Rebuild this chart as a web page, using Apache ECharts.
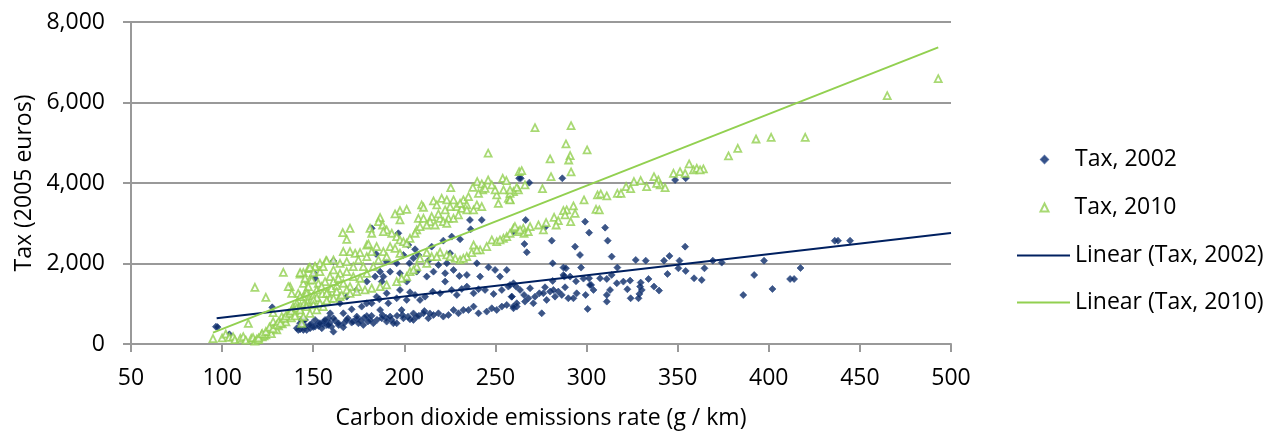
<!DOCTYPE html>
<html>
<head>
<meta charset="utf-8">
<script src="https://cdn.jsdelivr.net/npm/echarts@6/dist/echarts.min.js"></script>
<style>
html,body{margin:0;padding:0;background:#fff;}
#chart{width:1266px;height:432px;}
</style>
</head>
<body>
<div id="chart"></div>
<script>
// X-axis tick values and Y-axis tick values
var xTicks = [50, 100, 150, 200, 250, 300, 350, 400, 450, 500];
var yTicks = [0, 2000, 4000, 6000, 8000];

var seriesNames = ['Tax, 2002', 'Tax, 2010', 'Linear (Tax, 2002)', 'Linear (Tax, 2010)'];

// [CO2 g/km, tax 2005 euros] — Tax, 2002
var tax2002 = [
[96.6,431],[97.5,420],[104,240],[127.5,911],[141.8,348],[144.6,580],[146.4,348],[142.8,364],[152.8,514],[155.5,497],[151,1739],[151,1632],
[141,391],[144.6,349],[148.3,391],[151,432],[154.7,391],[157.4,473],[159.3,763],[143.7,597],[158.4,639],
[146,430],[149,500],[150,420],[153,450],[156,560],[159,520],[160,430],[162,580],[164,470],[167,520],[169,640],[172,560],
[174,620],[176,580],[178,650],[180,560],[182,700],[185,600],[188,720],[190,650],[193,600],[196,700],[199,720],[202,680],
[205,760],[208,700],[211,820],[214,760],
[263,4117],[182.1,2874],[236,3082],[242.5,3082],[236.4,2850],[196.7,2751],[221.4,2568],[230.6,2601],[202.2,2460],[184.5,2237],
[161.1,2063],[199.5,2212],[207.7,2212],[213.2,2071],[202.8,2005],[186.7,1798],[184,1674],[187.6,1550],[197.6,1757],[206.8,1798],
[222.4,1757],[222.4,1550],[230.2,1690],[223.3,2005],[231.5,1368],[234.3,1426],[240.7,1360],[249,1243],[253.5,1343],[246.2,1906],
[259,1177],[215.6,1302],[208.6,1095],[203.1,1285],[197.6,1343],[186.3,1110],[191.2,1012],[182.1,1012],[186.7,846],[176.6,929],
[171.1,862],[166.5,763],[161.1,639],[161.1,307],[153.7,515],[148.2,473],[142.8,515],[195.8,515],[190.3,556],[203.1,614],
[206.8,681],[216,722],[221.4,681],[227,846],[232.4,846],[238,929],[245.2,805],[250.7,846],[256.2,971],[261.7,929],
[198.5,846],[179.4,696],[177.5,473],[171.1,532],[166.5,415],[183,515],
[145.5,598],[151,598],[156.5,598],[158.3,473],[163.8,515],[168.4,598],[173.9,681],[174.8,515],[181.2,598],[187.6,639],
[192.2,681],[194,515],[199.5,639],[205,598],[210.5,763],[213.2,639],[218.7,763],[224.2,722],[229.7,763],[235.2,846],
[240.7,763],[248,888],[253.5,929],[259.9,888],[179.4,1012],[184.8,1177],[190.3,1260],[195.8,1136],[201.3,1095],[205.9,1219],
[211.4,1177],[219.6,1260],[226,1343],[228.8,1219],[238,1260],[244.3,1343],[257.1,1426],[188.5,1674],[192.2,1798],[201.3,1550],
[212.3,1674],[216,1798],[218.7,1964],[227,1840],[234.3,1716],[241.6,1674],[252.5,1674],[259.9,1509],[190.3,2046],[195.8,2005],
[205,2129],[225.1,2254],[239.8,2005],[249.8,1840],[256.2,1840],[215,2419],[226,2668],[205.9,2353],[179.4,1550],[173.9,1343],
[168.4,1177],[164.7,1012],
[263.9,4117],[268.6,4009],[286.7,4117],[348.6,4075],[354.4,4117],[266.6,3082],[259.8,2792],[277.2,2900],[299.2,3040],[310.2,2891],
[301.4,2767],[265.9,2485],[267.2,2279],[280.9,2568],[311.6,2568],[293.7,2419],[296.4,2212],[313.8,2171],[281.4,2005],[287.3,1898],
[288.7,1881],[297,1898],[287.8,1674],[281.4,1567],[294.2,1558],[298.3,1625],[301.4,1633],[302.5,1467],[307.4,1633],[311.1,1616],
[313.8,1716],[316.9,1898],[323.9,1575],[329.7,1525],[327,2088],[332.5,2071],[329.4,1426],[330.3,1343],[329,1244],[337,1426],
[339.8,1327],[334,1616],[322.4,1360],[324.2,1136],[328.5,1136],[342.5,2071],[345.5,2188],[351,2071],[344.4,1740],[350.4,1881],
[354.4,1815],[354.1,2419],[359,1633],[363.2,1591],[364.7,1881],[369.3,2071],[374.2,2022],
[258.9,1177],[259.8,929],[265.7,1219],[266.2,1053],[270.8,1012],[271.7,1177],[275.4,763],[277.2,1409],[280,1302],[281.8,1343],
[282.7,1177],[286.4,1219],[288.2,1409],[290,1136],[292.8,1136],[299.5,1219],[300.6,871],[301.9,1467],[311.1,1219],[311.1,1053],
[274.1,1260],[258,1467],[261.7,1012],[268.1,1136],[276.3,1260],[278.1,1095],[284.5,1302],[294.6,1260],[303.8,1343],[312.9,1343],
[263.5,1343],[269,1384],[261.3,1426],[287.3,1716],[291,1674],[316.6,1509],[320.2,1550],
[386,1217],[392,1714],[397.4,2070],[402,1367],[411.7,1615],[413.9,1615],[417.4,1888],[436.2,2566],[438,2566],[444.6,2566]
];

// [CO2 g/km, tax 2005 euros] — Tax, 2010
var tax2010 = [
[95,135],[100,150],[102,248],[104,165],[106,182],[107,110],[110,140],[111.6,182],[113,95],[114.4,514],[116,141],[117,160],[118,70],
[119,120],[120,110],[121.7,240],[122,180],[123,200],[124,230],[125,300],[126.3,348],[127,260],[128,555],[128,778],[129,400],
[130,350],[131,450],[132.7,679],[133,500],[134,600],[135,550],[136.3,762],[137,700],[138,650],[139,927],[139,820],[140,850],
[141,1011],[142,900],[143,760],[144.6,1176],[141.8,1259],[137.3,1424],[146.4,1342],[144.6,1508],[148,1590],[148,1880],
[118,1408],[124,1160],[133.6,1781],[142.8,1739],[136.3,1424],[138.2,1259],[147.4,1880],[151,1921],[157,2070],
[120,150],[122,260],[124,310],[126,420],[128,380],[130,480],[131,560],[132,520],[134,640],[135,700],[137,760],[138,820],
[140,700],[141,900],[143,950],[145,1000],[147,1050],[149,1100],[150,1200],[152,1150],[155,1250],[158,1300],[160,1380],[163,1450],
[246,4740],[254,4117],[256,4060],[263,4282],[240,4034],[242.5,3976],[246,4075],[243,3827],[237.6,3893],[232.4,3579],
[234.3,3455],[228.8,3413],[231.5,3372],[227,3579],[225.5,3885],[220.5,3620],[223.3,3579],[216,3554],[217.8,3455],[209.5,3455],
[210.5,3397],[207.7,3123],[210.5,3123],[215,3165],[219.6,3123],[221.4,3040],[224.2,3123],[227,3123],[229.7,3206],[234.3,3330],
[238,3330],[239.8,3455],[242.5,3413],[250.7,3703],[251.6,3496],[254.4,3827],[257.1,3620],[258,3595],[259.9,3786],[262.6,3827],
[249.8,3827],[248,3951],[244.3,3868],[240.7,3744],[235.2,3661],[230.6,3496],[225.1,3413],[222.4,3330],[218.7,3231],[214.1,3040],
[212.3,2957],[216.9,2957],[223.3,2999],
[201.3,3347],[197.6,3314],[194.9,3231],[197.6,3082],[186.7,3140],[185.8,3040],[188.1,2957],[190.3,2833],[193.1,2751],[195.8,2668],
[197.6,2585],[199.5,2543],[201.3,2502],[203.1,2626],[206.8,2833],[208.6,2916],[205.9,2751],[181.2,2874],[182.1,2751],[170.2,2874],
[168.4,2601],[166.2,2767],[166.5,2295],[170.2,2295],[173,2254],[175.7,2270],[179.4,2460],[180.3,2485],[184.8,2419],[188.5,2792],
[192.2,2419],[194.9,2378],[197.6,2254],[188.5,2295],[185.8,2088],[179.4,2171],[174.8,2088],[161.1,2088],[157.4,2071],[153.7,2005],
[151,1923],[148.2,1906],[144.6,1774],[142.8,1774],[150.1,1774],[153.7,1798],[161.1,1840],[164.7,1757],[168.4,1798],[172,1674],
[175.7,1633],[179.4,1757],[159.2,1674],[156.5,1550],[152.8,1509],[147.3,1426],[161.1,1550],[166.5,1509],[170.2,1426],[174.8,1426],
[151.9,1343],[146.4,1260],[142.8,1177],[157.4,1260],[162.9,1302],[164.7,2005],[168.4,2046],[172,1923],[183,1923],[190.3,2171],
[182.1,2295],[177.5,1923],[155.5,1923],[145.5,1633],[149.2,1591],[154.6,1426],[163.8,1633],[168.4,1343],[164.7,1177],[159.2,1136],
[150.1,1095],
[142.8,846],[146.4,929],[153.7,1012],[161.1,1136],[170.2,1260],[178.4,1343],[186.7,1426],[195.8,1550],[201.3,1674],[203.1,1798],
[206.8,1923],[212.3,2005],[215,2171],[219.6,2279],[223.3,2212],[227.9,2129],[230.6,2088],[234.3,2171],[237,2270],[238,2460],
[241.6,2337],[245.2,2419],[248,2585],[250.7,2543],[254.4,2626],[256.2,2668],[259.9,2874],[262.6,2792],[212.3,2270],[208.6,2129],
[190.3,1467],[182.1,1385],[173.9,1302],[165.6,1219],[157.4,1078],[150.1,971],[198.5,1633],[205,1840],[217.8,2171],[225.1,2171],
[232.4,2129],[239.8,2337],[252.5,2585],[258,2751],[144.6,681],[148.2,763],[151.9,846],[155.5,929],[143.7,515],
[271.7,5375],[291.5,5425],[288.7,4970],[291,4680],[290.2,4572],[280,4597],[300.3,4821],[264.4,4307],[266.2,3951],[261.7,3893],
[280.5,4158],[291.5,4274],[275.8,3860],[258,3744],[258,3579],[298.6,3579],[292.8,3430],[289.1,3330],[287.3,3314],[293.7,3247],
[282.2,3148],[284.5,3065],[291.3,3040],[283.3,2957],[305.2,3347],[307,3330],[306,3703],[307.8,3728],[311.1,3678],[316.9,3744],
[318.9,3744],[321.7,3910],[324.2,3860],[326,4034],[329.7,4059],[333,3910],[337,4158],[339.4,4075],[340.4,3951],[343.1,3885],
[347.7,4241],[351.3,4282],[356.3,4473],[358.7,4324],[360.5,4365],[364.1,4349],[377.9,4672],[260.7,2916],[265.3,2874],[269,2916],
[273.6,2957],[276.3,2833],[277.8,3016],[265.7,2751],[263.5,2833],[268,2792],[288.2,3206],[338.5,3993],[354.1,4241],[362.3,4324],
[258,3827],
[383,4861],[393,5093],[401.3,5134],[420,5134],[465,6169],[493,6592]
];

// Linear trend lines (end points as drawn in the reference)
var trend2002 = [[97, 640], [500, 2755]];
var trend2010 = [[95, 282], [493, 7371]];

var NAVY = '#0b2a66';
var LINE_NAVY = '#002060';
var GREEN = '#92d050';
var FONT = 'Open Sans';
var FS = 23;

function legendText(padLeft) {
  return {fontFamily: FONT, fontSize: FS, color: '#000', padding: [0, 0, 0, padLeft]};
}

var chart = echarts.init(document.getElementById('chart'), null, {renderer: 'canvas'});
chart.setOption({
  animation: false,
  backgroundColor: '#fff',
  textStyle: {fontFamily: FONT, color: '#000'},
  grid: {left: 131, right: 315, top: 22, bottom: 88, containLabel: false, outerBoundsMode: 'none'},
  legend: [
    {left: 1035, top: 143, itemWidth: 7, itemHeight: 7, icon: 'diamond', data: [seriesNames[0]],
     textStyle: legendText(22), selectedMode: false},
    {left: 1034.5, top: 191, itemWidth: 8, itemHeight: 8, data: [seriesNames[1]],
     textStyle: legendText(21), selectedMode: false},
    {left: 1012, top: 239, itemWidth: 53, itemHeight: 2, icon: 'rect', data: [seriesNames[2]],
     textStyle: legendText(0), selectedMode: false},
    {left: 1012, top: 286, itemWidth: 53, itemHeight: 2, icon: 'rect', data: [seriesNames[3]],
     textStyle: legendText(0), selectedMode: false}
  ],
  xAxis: {
    type: 'value',
    min: xTicks[0], max: xTicks[xTicks.length - 1], interval: 50,
    name: 'Carbon dioxide emissions rate (g / km)',
    nameLocation: 'middle', nameGap: 63,
    nameTextStyle: {fontFamily: FONT, fontSize: FS, color: '#000'},
    axisLine: {show: true, onZero: false, lineStyle: {color: '#999', width: 2}},
    axisTick: {show: true, length: 8, lineStyle: {color: '#999', width: 2}},
    axisLabel: {fontFamily: FONT, fontSize: FS, color: '#000', margin: 23},
    splitLine: {show: false}
  },
  yAxis: {
    type: 'value',
    min: yTicks[0], max: yTicks[yTicks.length - 1], interval: 2000,
    name: 'Tax (2005 euros)',
    nameLocation: 'middle', nameGap: 93, nameRotate: 90,
    nameTextStyle: {fontFamily: FONT, fontSize: FS, color: '#000'},
    axisLine: {show: true, lineStyle: {color: '#999', width: 2}},
    axisTick: {show: true, length: 8, lineStyle: {color: '#999', width: 2}},
    axisLabel: {fontFamily: FONT, fontSize: FS, color: '#000', margin: 26,
      formatter: function (v) { return v.toLocaleString('en-US'); }},
    splitLine: {show: true, lineStyle: {color: '#999', width: 2}}
  },
  series: [
    {
      name: seriesNames[0], type: 'scatter', data: tax2002,
      symbol: 'diamond', symbolSize: 7,
      itemStyle: {color: NAVY, borderColor: '#2a4a88', borderWidth: 0.8},
      z: 2
    },
    {
      name: seriesNames[1], type: 'scatter', data: tax2010,
      symbol: 'triangle', symbolSize: 7,
      itemStyle: {color: '#ffffff', borderColor: GREEN, borderWidth: 1.8},
      z: 3
    },
    {
      name: seriesNames[2], type: 'line', data: trend2002,
      symbol: 'none', lineStyle: {color: LINE_NAVY, width: 2},
      itemStyle: {color: LINE_NAVY}, z: 4
    },
    {
      name: seriesNames[3], type: 'line', data: trend2010,
      symbol: 'none', lineStyle: {color: GREEN, width: 2},
      itemStyle: {color: GREEN}, z: 4
    }
  ]
});
</script>
</body>
</html>
